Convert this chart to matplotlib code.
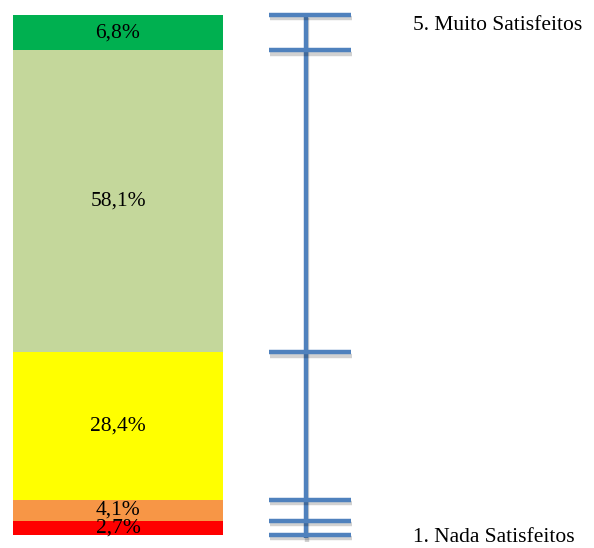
import numpy as np
import matplotlib.pyplot as plt
import matplotlib.patheffects as pe

# dados (de baixo para cima)
valores = [2.7, 4.1, 28.4, 58.1, 6.8]
rotulos = ["2,7%", "4,1%", "28,4%", "58,1%", "6,8%"]
cores = ["#FF0000", "#F79646", "#FFFF00", "#C4D79B", "#00B050"]
escala = ["1. Nada Satisfeitos", "5. Muito Satisfeitos"]


def main():
    plt.rcParams['font.family'] = ['Liberation Serif', 'DejaVu Serif']
    fig = plt.figure(figsize=(5.94, 5.48), dpi=100)
    ax = fig.add_axes([0, 13 / 548, 1, 520 / 548])

    base = np.concatenate([[0], np.cumsum(valores)])
    total = base[-1]

    # barra empilhada
    for i, v in enumerate(valores):
        ax.bar(13, v, width=210, bottom=base[i], color=cores[i], align='edge')
        ax.text(118, base[i] + v / 2, rotulos[i], ha='center', va='center',
                fontsize=15.5)

    # escala azul com sombra
    sombra = [pe.SimpleLineShadow(offset=(1, -2.5), alpha=0.18, shadow_color='black'),
              pe.Normal()]
    ax.plot([306, 306], [total, -0.6], color='#4F81BD', lw=3.2,
            path_effects=sombra, solid_capstyle='butt', clip_on=False)
    for y in base:
        ax.plot([269, 351], [y, y], color='#4F81BD', lw=3.2,
                path_effects=sombra, solid_capstyle='butt', clip_on=False)

    ax.text(413, 98.0, escala[1], ha='left', va='center', fontsize=15.5,
            clip_on=False)
    ax.text(413, -0.4, escala[0], ha='left', va='center', fontsize=15.5,
            clip_on=False)

    ax.set_xlim(0, 594)
    ax.set_ylim(0, total)
    ax.axis('off')
    fig.savefig("out.png", dpi=100)


if __name__ == "__main__":
    main()
